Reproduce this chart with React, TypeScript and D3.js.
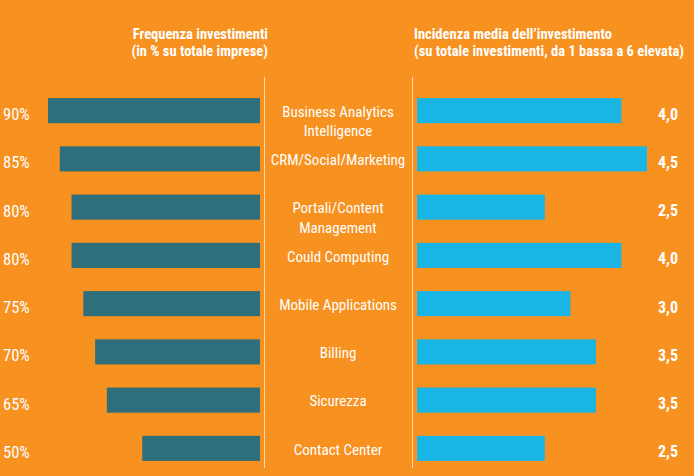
import React from "react";
import * as d3 from "d3";

const categories = [
  ["Business Analytics", "Intelligence"],
  ["CRM/Social/Marketing"],
  ["Portali/Content", "Management"],
  ["Could Computing"],
  ["Mobile Applications"],
  ["Billing"],
  ["Sicurezza"],
  ["Contact Center"],
];
const frequency = [90, 85, 80, 80, 75, 70, 65, 50];
const incidence = [4.0, 4.5, 2.5, 4.0, 3.0, 3.5, 3.5, 2.5];
const leftTitle = ["Frequenza investimenti", "(in % su totale imprese)"];
const rightTitle = ["Incidenza media dell\u2019investimento", "(su totale investimenti, da 1 bassa a 6 elevata)"];

const W = 694;
const H = 476;
const FONT = "'Liberation Sans Narrow', 'Arial Narrow', 'Roboto Condensed', 'Liberation Sans', sans-serif";

export default function App() {
  const idx = categories.map((_, i) => String(i));
  const y = d3.scaleBand().domain(idx).range([86.5, 472.5]).paddingInner(0.48).paddingOuter(0.24);
  const xl = d3.scaleLinear().domain([0, 90]).range([260, 48]);
  const xr = d3.scaleLinear().domain([0, 4.5]).range([417, 647]);
  const bh = y.bandwidth();

  return (
    <svg width={W} height={H} style={{ position: "absolute", left: 0, top: 0, display: "block" }} fontFamily={FONT}>
      <rect x={0} y={0} width={W} height={H} fill="#F7911F" />
      <text textAnchor="end" fill="#fff" fontWeight="bold" fontSize={14.5}>
        <tspan x={268} y={38.5}>{leftTitle[0]}</tspan>
        <tspan x={268} y={56}>{leftTitle[1]}</tspan>
      </text>
      <text textAnchor="start" fill="#fff" fontWeight="bold" fontSize={14.5}>
        <tspan x={414} y={38.5}>{rightTitle[0]}</tspan>
        <tspan x={414} y={56}>{rightTitle[1]}</tspan>
      </text>
      <line x1={264.5} x2={264.5} y1={77} y2={468} stroke="#FBD9AE" strokeWidth={1} />
      <line x1={412.5} x2={412.5} y1={77} y2={468} stroke="#FBD9AE" strokeWidth={1} />
      {categories.map((lines, i) => {
        const y0 = y(String(i)) as number;
        const cy = y0 + bh / 2;
        return (
          <g key={i}>
            <rect x={xl(frequency[i])} y={y0} width={xl(0) - xl(frequency[i])} height={bh} fill="#2F6F7B" />
            <rect x={xr(0)} y={y0} width={xr(incidence[i]) - xr(0)} height={bh} fill="#19B5E4" />
            <text x={3} y={cy + 9.5} fill="#fff" fontSize={16.5}>
              {frequency[i] + "%"}
            </text>
            <text x={678} y={cy + 9} textAnchor="end" fill="#fff" fontSize={16} fontWeight="bold">
              {d3.format(".1f")(incidence[i]).replace(".", ",")}
            </text>
            {lines.map((l, j) => (
              <text key={j} x={338} y={cy + 6.2 + j * 19.5} textAnchor="middle" fill="#fff" fontSize={15}>
                {l}
              </text>
            ))}
          </g>
        );
      })}
    </svg>
  );
}
